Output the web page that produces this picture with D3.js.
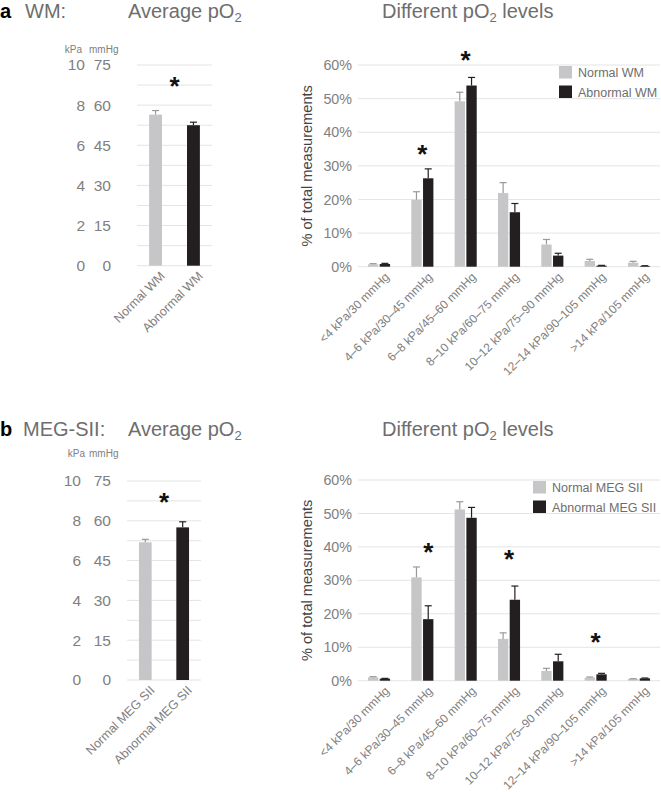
<!DOCTYPE html>
<html>
<head>
<meta charset="utf-8">
<script src="https://cdn.jsdelivr.net/npm/d3@7"></script>
<style>
  body { margin: 0; background: #fff; }
  text { font-family: "Helvetica Neue", Helvetica, Arial, "Liberation Sans", sans-serif; }
</style>
</head>
<body>
<div id="chart"></div>
<script>
// pO2 level bins (shared by both distribution charts)
const levels = ['<4 kPa/30 mmHg', '4–6 kPa/30–45 mmHg', '6–8 kPa/45–60 mmHg', '8–10 kPa/60–75 mmHg',
  '10–12 kPa/75–90 mmHg', '12–14 kPa/90–105 mmHg', '>14 kPa/105 mmHg']

// panel a: white matter
const wmCats = ['Normal WM', 'Abnormal WM']
const wmAvg = [7.53, 7.0]          // kPa
const wmAvgErr = [0.2, 0.15]
const wmNormal = [0.7, 19.9, 49.2, 21.9, 6.6, 1.7, 1.2]   // %
const wmNormalErr = [0.2, 2.4, 2.7, 3.1, 1.5, 0.5, 0.4]
const wmAbnormal = [0.8, 26.3, 53.9, 16.2, 3.3, 0.3, 0.2]
const wmAbnormalErr = [0.2, 2.8, 2.4, 2.6, 0.7, 0.1, 0.1]
const wmStars = [{ i: 1, v: 35 }, { i: 2, v: 63 }]

// panel b: MEG-SII
const megCats = ['Normal MEG SII', 'Abnormal MEG SII']
const megAvg = [6.92, 7.67]
const megAvgErr = [0.15, 0.28]
const megNormal = [1.0, 30.9, 51.2, 12.5, 2.9, 0.9, 0.5]
const megNormalErr = [0.2, 3.1, 2.3, 1.8, 0.8, 0.2, 0.1]
const megAbnormal = [0.6, 18.4, 48.7, 24.2, 5.8, 1.9, 0.7]
const megAbnormalErr = [0.1, 4.0, 3.1, 4.1, 2.1, 0.3, 0.1]
const megStars = [{ i: 1, v: 40, s: 1 }, { i: 3, v: 38 }, { i: 5, v: 13 }]

const kpaTicks = [0, 2, 4, 6, 8, 10]
const pctTicks = [0, 10, 20, 30, 40, 50, 60]

const grey = '#c6c6c8', dark = '#231f20', gridCol = '#e4e4e4', tickCol = '#808080', titleCol = '#6e6e6e'

const svg = d3.select('#chart').append('svg').attr('width', 661).attr('height', 792)

function title(y, letter, name, nameX) {
  const g = svg.append('g')
  g.append('text').attr('x', 0).attr('y', y).attr('font-size', 20).attr('font-weight', 'bold').attr('fill', '#000').text(letter)
  g.append('text').attr('x', nameX).attr('y', y).attr('font-size', 20).attr('fill', titleCol).text(name)
  const sub = (x, a, b) => {
    const t = g.append('text').attr('x', x).attr('y', y).attr('font-size', 20).attr('fill', titleCol)
    t.append('tspan').text(a)
    t.append('tspan').attr('font-size', 13).attr('dy', 4).text('2')
    t.append('tspan').attr('dy', -4).text(b)
  }
  sub(128, 'Average pO', '')
  sub(382, 'Different pO', ' levels')
}

function avgChart(o) {
  const g = svg.append('g')
  const y = d3.scaleLinear().domain([0, 10]).range([o.y0, o.y10])
  const x = d3.scaleBand().domain(o.cats).range([o.x0, o.x1]).paddingInner(0.66).paddingOuter(0.32)

  g.selectAll('.grid').data(d3.range(0, 11)).enter().append('line')
    .attr('x1', o.x0).attr('x2', o.x1).attr('y1', d => y(d)).attr('y2', d => y(d))
    .attr('stroke', gridCol).attr('stroke-width', 1)

  const kpa = g.append('g').attr('transform', `translate(${o.kpaX},0)`)
    .call(d3.axisLeft(y).tickValues(kpaTicks).tickSize(0).tickPadding(0))
  const mm = g.append('g').attr('transform', `translate(${o.mmX},0)`)
    .call(d3.axisLeft(y).tickValues(kpaTicks).tickSize(0).tickPadding(0).tickFormat(d => d * 7.5))
  for (const a of [kpa, mm]) {
    a.select('.domain').remove()
    a.selectAll('text').attr('font-size', 15.5).attr('fill', tickCol).attr('font-family', null)
  }
  g.append('text').attr('x', o.kpaHX).attr('y', o.headY).attr('text-anchor', 'end').attr('font-size', 10).attr('fill', tickCol).text('kPa')
  g.append('text').attr('x', o.mmHX).attr('y', o.headY).attr('font-size', 10).attr('fill', tickCol).text('mmHg')

  const cols = [grey, dark], errCols = ['#999', dark]
  g.selectAll('.bar').data(o.vals).enter().append('rect')
    .attr('x', (d, i) => x(o.cats[i])).attr('width', x.bandwidth())
    .attr('y', d => y(d)).attr('height', d => y(0) - y(d))
    .attr('fill', (d, i) => cols[i])
  o.vals.forEach((v, i) => {
    const cx = x(o.cats[i]) + x.bandwidth() / 2
    g.append('line').attr('x1', cx).attr('x2', cx).attr('y1', y(v)).attr('y2', y(v + o.errs[i])).attr('stroke', errCols[i]).attr('stroke-width', 1.2)
    g.append('line').attr('x1', cx - 3.5).attr('x2', cx + 3.5).attr('y1', y(v + o.errs[i])).attr('y2', y(v + o.errs[i])).attr('stroke', errCols[i]).attr('stroke-width', 1.2)
    g.append('text').attr('transform', `translate(${cx + 7},${o.y0 + 8}) rotate(-45)`)
      .attr('text-anchor', 'end').attr('dy', '0.35em').attr('font-size', 12.5).attr('fill', tickCol).text(o.cats[i])
  })
  g.append('text').attr('x', (o.x0 + o.x1) / 2).attr('y', y(9.2) + 14).attr('text-anchor', 'middle')
    .attr('font-size', 26).attr('font-weight', 'bold').attr('fill', '#111').text('*')
}

function distChart(o) {
  const g = svg.append('g')
  const y = d3.scaleLinear().domain([0, 60]).range([o.y0, o.y60])
  const x = d3.scaleBand().domain(levels).range([358, 660]).paddingInner(0.49).paddingOuter(0.23)
  const xs = d3.scaleBand().domain([0, 1]).range([0, x.bandwidth()]).paddingInner(0.12)

  g.selectAll('.grid').data(pctTicks).enter().append('line')
    .attr('x1', 358).attr('x2', 660).attr('y1', d => y(d)).attr('y2', d => y(d))
    .attr('stroke', gridCol).attr('stroke-width', 1)

  const ax = g.append('g').attr('transform', 'translate(358,0)')
    .call(d3.axisLeft(y).tickValues(pctTicks).tickSize(0).tickPadding(6).tickFormat(d => d + '%'))
  ax.select('.domain').remove()
  ax.selectAll('text').attr('font-size', 14.3).attr('fill', tickCol).attr('font-family', null)

  g.append('text').attr('transform', `translate(307,${(o.y0 + o.y60) / 2}) rotate(-90)`)
    .attr('text-anchor', 'middle').attr('dy', '0.35em').attr('font-size', 14.6).attr('fill', '#444')
    .text('% of total measurements')

  const series = [
    { vals: o.normal, errs: o.normalErr, fill: grey, err: '#999' },
    { vals: o.abnormal, errs: o.abnormalErr, fill: dark, err: dark }
  ]
  series.forEach((s, k) => {
    const bx = i => x(levels[i]) + xs(k)
    g.selectAll(null).data(s.vals).enter().append('rect')
      .attr('x', (d, i) => bx(i)).attr('width', xs.bandwidth())
      .attr('y', d => y(d)).attr('height', d => y(0) - y(d)).attr('fill', s.fill)
    s.vals.forEach((v, i) => {
      const cx = bx(i) + xs.bandwidth() / 2, top = y(v + s.errs[i])
      g.append('line').attr('x1', cx).attr('x2', cx).attr('y1', y(v)).attr('y2', top).attr('stroke', s.err).attr('stroke-width', 1.2)
      g.append('line').attr('x1', cx - 3.5).attr('x2', cx + 3.5).attr('y1', top).attr('y2', top).attr('stroke', s.err).attr('stroke-width', 1.2)
    })
  })

  g.selectAll('.xl').data(levels).enter().append('text')
    .attr('transform', d => `translate(${x(d) + x.bandwidth() / 2 + 8},${o.y0 + 8}) rotate(-45)`)
    .attr('text-anchor', 'end').attr('dy', '0.35em').attr('font-size', 12).attr('fill', tickCol).text(d => d)

  o.stars.forEach(s => {
    const cx = s.s === 1 ? x(levels[s.i]) + xs(1) + xs.bandwidth() / 2 : x(levels[s.i]) + x.bandwidth() / 2
    g.append('text').attr('x', cx).attr('y', y(s.v) + 14).attr('text-anchor', 'middle')
      .attr('font-size', 26).attr('font-weight', 'bold').attr('fill', '#111').text('*')
  })

  // legend
  o.legend.forEach((name, k) => {
    const ly = o.legY + k * 19.5
    g.append('rect').attr('x', o.legX).attr('y', ly).attr('width', 13).attr('height', 12.5).attr('fill', series[k].fill)
    g.append('text').attr('x', o.legX + 19).attr('y', ly + 11).attr('font-size', 12.5).attr('fill', titleCol).text(name)
  })
}

title(18, 'a', 'WM:', 25)
avgChart({ cats: wmCats, vals: wmAvg, errs: wmAvgErr, x0: 137, x1: 212, y0: 265.7, y10: 65,
  kpaX: 85, mmX: 111, headY: 53, kpaHX: 82, mmHX: 89 })
distChart({ y0: 266.7, y60: 65, normal: wmNormal, normalErr: wmNormalErr, abnormal: wmAbnormal,
  abnormalErr: wmAbnormalErr, stars: wmStars, legend: wmCats, legX: 559, legY: 66 })

title(436, 'b', 'MEG-SII:', 23)
avgChart({ cats: megCats, vals: megAvg, errs: megAvgErr, x0: 127, x1: 201, y0: 680, y10: 481,
  kpaX: 81, mmX: 111, headY: 457, kpaHX: 85, mmHX: 89 })
distChart({ y0: 680.7, y60: 480, normal: megNormal, normalErr: megNormalErr, abnormal: megAbnormal,
  abnormalErr: megAbnormalErr, stars: megStars, legend: megCats, legX: 533, legY: 481 })
</script>
</body>
</html>
